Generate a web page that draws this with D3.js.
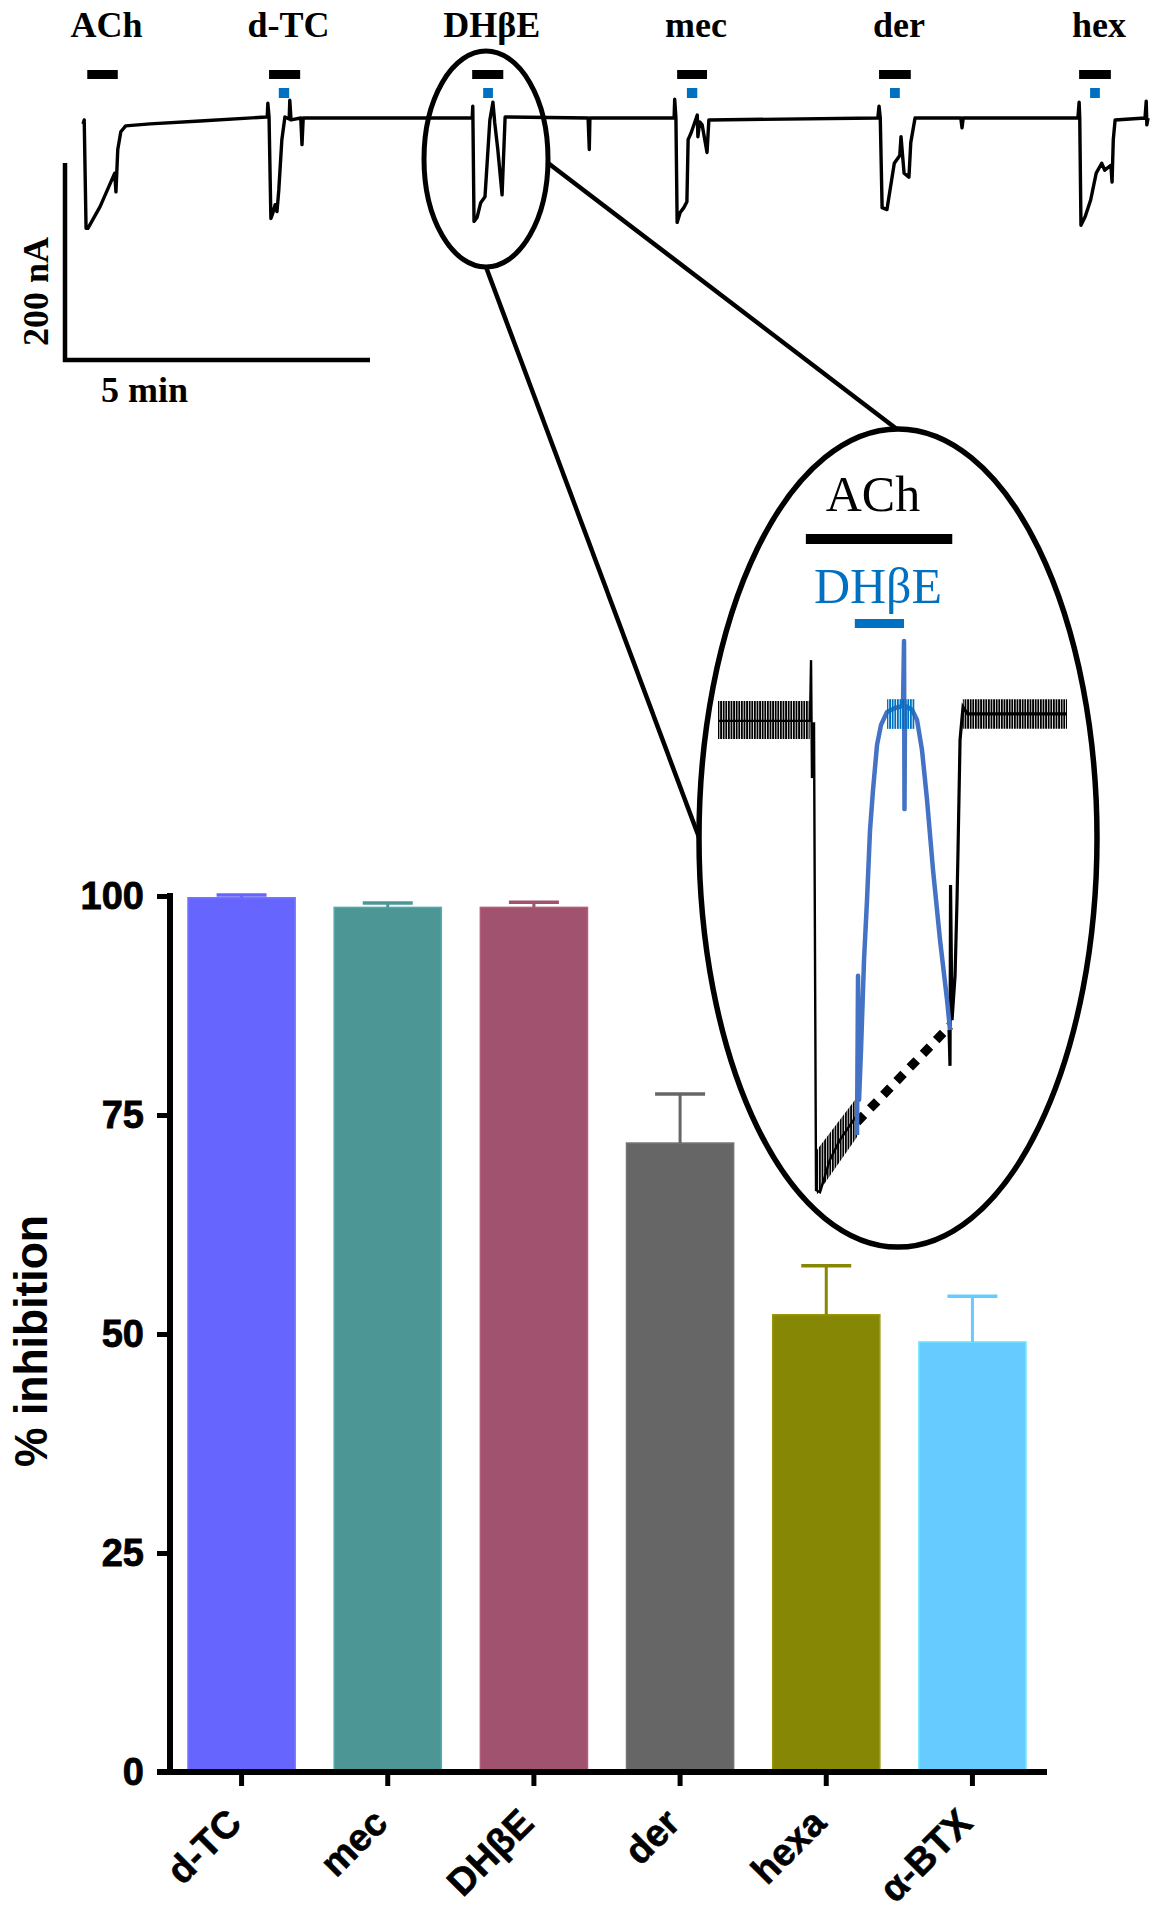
<!DOCTYPE html>
<html><head><meta charset="utf-8">
<script src="https://cdn.jsdelivr.net/npm/d3@7"></script>
<style>body{margin:0;background:#fff}</style>
</head><body>
<svg id="chart" width="1160" height="1920" xmlns="http://www.w3.org/2000/svg"></svg>
<script>
// ---------------- DATA ----------------
// Top recording: [time (min), current (nA)]
const traceData = [
  [0.00,-7],[0.02,-3],[0.05,-113],[0.08,-113],[0.28,-91],[0.52,-57],[0.54,-76],[0.57,-33],[0.62,-15],[0.70,-9],
  [1.10,-7],[1.92,-4],[3.00,0],
  [3.02,0],[3.03,14],[3.05,0],[3.08,-103],[3.11,-98],[3.15,-89],[3.18,-96],[3.21,-74],[3.26,-23],[3.31,0],
  [3.38,-2],[3.39,17],[3.41,-3],[3.57,-1],[3.59,-28],[3.61,-1],[5.20,-1],[6.38,-1],
  [6.39,11],[6.41,-106],[6.46,-102],[6.52,-87],[6.59,-81],[6.67,-3],[6.72,15],[6.75,-6],[6.80,-33],[6.87,-79],[6.92,0],
  [8.28,-1],[8.30,-33],[8.31,-1],[9.69,-1],
  [9.70,18],[9.72,-1],[9.74,-107],[9.79,-97],[9.85,-92],[9.90,-86],[9.92,-23],[9.97,-16],[10.07,2],[10.08,-20],
  [10.11,-5],[10.15,-8],[10.23,-36],[10.26,-3],[13.03,-1],
  [13.05,11],[13.07,-1],[13.10,-92],[13.18,-94],[13.21,-82],[13.30,-47],[13.39,-39],[13.41,-20],[13.46,-57],
  [13.54,-61],[13.57,-26],[13.64,-1],[14.39,-1],[14.41,-11],[14.43,-1],[16.31,-1],
  [16.33,15],[16.34,-1],[16.36,-110],[16.43,-101],[16.52,-84],[16.61,-57],[16.70,-47],[16.75,-54],[16.85,-49],
  [16.87,-66],[16.89,-23],[16.92,-3],[17.41,-1],[17.43,16],[17.44,-8],[17.46,-1]
];
const drugLabels = ['ACh','d-TC','DH\u03b2E','mec','der','hex'];
const achStart = [0.07, 3.05, 6.38, 9.74, 13.05, 16.33];
const achEnd   = [0.57, 3.56, 6.89, 10.23, 13.57, 16.85];
const antStart = [null, 3.21, 6.56, 9.90, 13.23, 16.51];
const antEnd   = [null, 3.38, 6.72, 10.07, 13.39, 16.67];
const scaleBarTime = 5;      // min
const scaleBarCurrent = 200; // nA

// Inset (zoom of DHβE response): [time (s), current (nA)]
const insetBlackA = [[0,-0.2],[19.17,-0.2],[19.38,13.5],[19.58,-13.1],[20.0,-0.5],[20.42,-106],[21.25,-106.5],
  [23.3,-99.2],[25.4,-94.7],[28.96,-89.1]];
const insetBlue = [[28.96,-93.6],[29.17,-57.7],[29.38,-85.7],[29.79,-74.4],[30.42,-54.1],[31.04,-40.6],[31.67,-24.8],
  [32.29,-15.8],[33.13,-5.6],[33.96,-1.1],[35.21,1.8],[36.88,2.7],[38.54,3.2],[38.75,17.8],[38.85,-20.1],[38.96,3.2],
  [40.42,2.3],[41.46,0],[42.5,-6.8],[43.54,-18],[44.79,-33.8],[46.25,-49.6],[47.71,-63.1],[48.33,-69.9]];
const insetBlackB = [[48.13,-69.9],[48.33,-78],[48.44,-37.2],[48.75,-67.7],[49.38,-57.7],[49.79,-40.6],[50.0,-29.3],
  [50.42,-4.5],[51.04,2.9],[52.0,1.4],[72.7,1.4]];
// noise envelopes: [time, upper, lower]
const noiseBlack = [
  [[0,4.3,-4.3],[19.1,4.3,-4.3]],
  [[20.6,-97,-107],[29.0,-85,-94]],
  [[51.0,4.7,-2.0],[72.7,4.7,-2.0]]
];
const noiseBlue = [[35.2,4.7,-2.0],[41.0,4.7,-2.0]];
const dottedLine = [[28.96,-90.7],[48.3,-69]];
const insetAch = [18.3, 48.8];
const insetAnt = [28.5, 38.75];

// Bar chart
const categories = ['d-TC','mec','DH\u03b2E','der','hexa','\u03b1-BTX'];
const means = [99.8, 98.7, 98.7, 71.8, 52.2, 49.1];
const sems  = [0.3, 0.5, 0.6, 5.6, 5.6, 5.2];
const barColors = ['#6666FF','#4C9696','#A0526E','#666666','#878706','#66CCFF'];
const yTicks = [0, 25, 50, 75, 100];

// ---------------- DRAW ----------------
const svg = d3.select('#chart');
const defs = svg.append('defs');
defs.append('pattern').attr('id','hatchK').attr('patternUnits','userSpaceOnUse')
  .attr('width',2.6).attr('height',10)
  .append('rect').attr('width',1.8).attr('height',10).attr('fill','#000');
defs.append('pattern').attr('id','hatchB').attr('patternUnits','userSpaceOnUse')
  .attr('width',2.6).attr('height',10)
  .append('rect').attr('width',1.8).attr('height',10).attr('fill','#0070C0');

const serif = "'Liberation Serif','Times New Roman',serif";
const sans = "'Liberation Sans',Arial,Helvetica,sans-serif";

// ---- top trace ----
const tX = d3.scaleLinear().domain([0, 5]).range([83, 388]);
const tY = d3.scaleLinear().domain([0, -200]).range([117, 314]);
const line = d3.line().x(d => tX(d[0])).y(d => tY(d[1]));
svg.append('path').datum(traceData).attr('d', line)
  .attr('fill','none').attr('stroke','#000').attr('stroke-width',3.4).attr('stroke-linejoin','round');

const topG = svg.append('g');
drugLabels.forEach((lab, i) => {
  const cx = (tX(achStart[i]) + tX(achEnd[i])) / 2;
  topG.append('text').attr('x', cx + 4).attr('y', 37).attr('text-anchor','middle')
    .attr('font-family', serif).attr('font-weight','bold').attr('font-size',36).text(lab);
  topG.append('rect').attr('x', tX(achStart[i])).attr('y', 70)
    .attr('width', tX(achEnd[i]) - tX(achStart[i])).attr('height', 9).attr('fill','#000');
  if (antStart[i] !== null) {
    topG.append('rect').attr('x', tX(antStart[i])).attr('y', 88)
      .attr('width', tX(antEnd[i]) - tX(antStart[i])).attr('height', 10).attr('fill','#0070C0');
  }
});

// scale bar
const sbX = 65, sbY = 360;
const sbW = tX(scaleBarTime) - tX(0), sbH = tY(-scaleBarCurrent) - tY(0);
svg.append('path').attr('d', `M${sbX},${sbY - sbH}V${sbY}H${sbX + sbW}`)
  .attr('fill','none').attr('stroke','#000').attr('stroke-width',4.5);
svg.append('text').attr('x', 101).attr('y', 402)
  .attr('font-family', serif).attr('font-weight','bold').attr('font-size',36).text(scaleBarTime + ' min');
svg.append('text').attr('transform', `translate(48,${sbY - sbH / 2 + 30}) rotate(-90)`)
  .attr('text-anchor','middle')
  .attr('font-family', serif).attr('font-weight','bold').attr('font-size',36).text(scaleBarCurrent + ' nA');

// highlight ellipse + connector lines
svg.append('ellipse').attr('cx',486).attr('cy',159).attr('rx',62).attr('ry',108)
  .attr('fill','none').attr('stroke','#000').attr('stroke-width',5);
svg.append('line').attr('x1',548).attr('y1',163).attr('x2',898).attr('y2',430)
  .attr('stroke','#000').attr('stroke-width',4.5);
svg.append('line').attr('x1',486).attr('y1',267).attr('x2',700).attr('y2',840)
  .attr('stroke','#000').attr('stroke-width',4.5);
svg.append('ellipse').attr('cx',898).attr('cy',838).attr('rx',199).attr('ry',409)
  .attr('fill','#fff').attr('stroke','#000').attr('stroke-width',5.5);

// ---- inset ----
const iX = d3.scaleLinear().domain([0, 72.7]).range([718, 1067]);
const iY = d3.scaleLinear().domain([0, -106]).range([720, 1190]);
const iLine = d3.line().x(d => iX(d[0])).y(d => iY(d[1]));
const iArea = d3.area().x(d => iX(d[0])).y0(d => iY(d[2])).y1(d => iY(d[1]));
const inset = svg.append('g');
noiseBlack.forEach(seg => inset.append('path').datum(seg).attr('d', iArea).attr('fill','url(#hatchK)'));
inset.append('path').datum(insetBlackA).attr('d', iLine).attr('fill','none')
  .attr('stroke','#000').attr('stroke-width',2.4);
inset.append('path').datum(insetBlackB).attr('d', iLine).attr('fill','none')
  .attr('stroke','#000').attr('stroke-width',3.2);
inset.append('path').datum(dottedLine).attr('d', iLine).attr('fill','none')
  .attr('stroke','#000').attr('stroke-width',9).attr('stroke-dasharray','10 9');
inset.append('path').datum(insetBlue).attr('d', iLine).attr('fill','none')
  .attr('stroke','#4472C4').attr('stroke-width',4.5).attr('stroke-linejoin','round');
inset.append('path').datum(noiseBlue).attr('d', iArea).attr('fill','url(#hatchB)');

inset.append('text').attr('x', 873).attr('y', 511).attr('text-anchor','middle')
  .attr('font-family', serif).attr('font-size',50).attr('fill','#000').text('ACh');
inset.append('rect').attr('x', iX(insetAch[0])).attr('y', 534)
  .attr('width', iX(insetAch[1]) - iX(insetAch[0])).attr('height', 10).attr('fill','#000');
inset.append('text').attr('x', 878).attr('y', 603).attr('text-anchor','middle')
  .attr('font-family', serif).attr('font-size',50).attr('fill','#0070C0').text('DH\u03b2E');
inset.append('rect').attr('x', iX(insetAnt[0])).attr('y', 619)
  .attr('width', iX(insetAnt[1]) - iX(insetAnt[0])).attr('height', 9).attr('fill','#0070C0');

// ---- bar chart ----
const x = d3.scaleBand().domain(categories).range([169, 1045]).paddingInner(0.267).paddingOuter(0.13);
const y = d3.scaleLinear().domain([0, 100]).range([1772, 896]);
const bc = svg.append('g');

bc.selectAll('rect.bar').data(categories).join('rect').attr('class','bar')
  .attr('x', d => x(d)).attr('width', x.bandwidth())
  .attr('y', (d, i) => y(means[i])).attr('height', (d, i) => y(0) - y(means[i]))
  .attr('fill', (d, i) => barColors[i])
  .attr('stroke', (d, i) => d3.color(barColors[i]).brighter(0.35)).attr('stroke-width',1.5);

categories.forEach((c, i) => {
  const cx = x(c) + x.bandwidth() / 2;
  bc.append('line').attr('x1', cx).attr('x2', cx).attr('y1', y(means[i])).attr('y2', y(means[i] + sems[i]))
    .attr('stroke', barColors[i]).attr('stroke-width', 3);
  bc.append('line').attr('x1', cx - 25).attr('x2', cx + 25).attr('y1', y(means[i] + sems[i])).attr('y2', y(means[i] + sems[i]))
    .attr('stroke', barColors[i]).attr('stroke-width', 3.5);
});

// y axis
const yAx = bc.append('g').attr('transform','translate(170,0)')
  .call(d3.axisLeft(y).tickValues(yTicks).tickSize(13).tickPadding(13).tickFormat(d3.format('d')));
yAx.select('.domain').remove();
yAx.selectAll('.tick line').attr('stroke','#000').attr('stroke-width',5);
yAx.selectAll('.tick text').attr('font-family', sans).attr('font-weight','bold').attr('font-size',38)
  .attr('fill','#000').attr('stroke','#000').attr('stroke-width',0.8);
bc.append('line').attr('x1',170).attr('x2',170).attr('y1', y(100) - 3).attr('y2', y(0) + 3)
  .attr('stroke','#000').attr('stroke-width',6);

// x axis
const xAx = bc.append('g').attr('transform', `translate(0,${y(0)})`)
  .call(d3.axisBottom(x).tickSize(14).tickSizeOuter(0).tickFormat(''));
xAx.select('.domain').remove();
xAx.selectAll('.tick line').attr('stroke','#000').attr('stroke-width',5);
bc.append('line').attr('x1',157).attr('x2',1047).attr('y1', y(0)).attr('y2', y(0))
  .attr('stroke','#000').attr('stroke-width',6);
categories.forEach(c => {
  const cx = x(c) + x.bandwidth() / 2;
  bc.append('text').attr('transform', `translate(${cx + 2},${y(0) + 53}) rotate(-45)`)
    .attr('text-anchor','end').attr('font-family', sans).attr('font-weight','bold').attr('font-size',38)
    .attr('fill','#000').attr('stroke','#000').attr('stroke-width',0.6).text(c);
});

// y title
bc.append('text').attr('transform', `translate(47,${(y(0) + y(100)) / 2 + 7}) rotate(-90)`)
  .attr('text-anchor','middle').attr('font-family', sans).attr('font-weight','bold').attr('font-size',46)
  .attr('textLength',252).attr('lengthAdjust','spacingAndGlyphs').text('% inhibition');
</script>
</body></html>
